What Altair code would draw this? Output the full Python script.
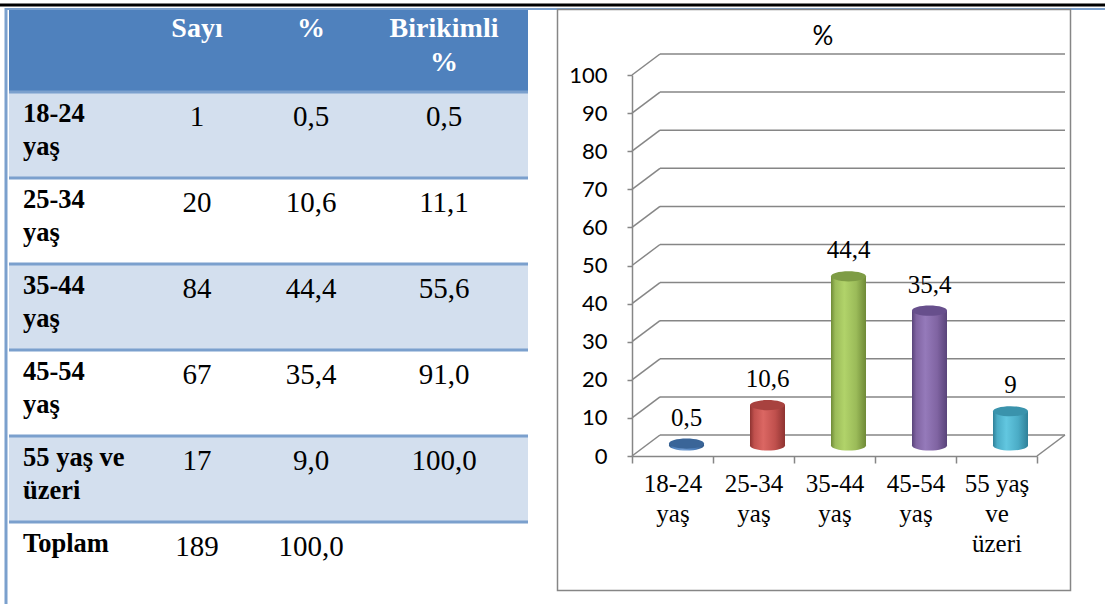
import altair as alt
import pandas as pd

# ---- table content -------------------------------------------------------
header_labels = ["Sayı", "%", "Birikimli\n%"]
row_labels = ["18-24\nyaş", "25-34\nyaş", "35-44\nyaş", "45-54\nyaş", "55 yaş ve\nüzeri", "Toplam"]
counts = ["1", "20", "84", "67", "17", "189"]
percent_text = ["0,5", "10,6", "44,4", "35,4", "9,0", "100,0"]
cumulative_text = ["0,5", "11,1", "55,6", "91,0", "100,0", ""]

# ---- chart content -------------------------------------------------------
categories = ["18-24\nyaş", "25-34\nyaş", "35-44\nyaş", "45-54\nyaş", "55 yaş\nve\nüzeri"]
percents = [0.5, 10.6, 44.4, 35.4, 9.0]
value_labels = ["0,5", "10,6", "44,4", "35,4", "9"]
y_ticks = [0, 10, 20, 30, 40, 50, 60, 70, 80, 90, 100]

base_colors = ["#4F81BD", "#C0504D", "#9BBB59", "#8064A2", "#4BACC6"]
dark_colors = ["#2E5584", "#8E3331", "#6F8A37", "#59447A", "#2F8098"]
light_colors = ["#729DD2", "#DB6763", "#B1D36A", "#957ABA", "#62C7E0"]
top_colors = ["#3A6598", "#A8423F", "#7E9C45", "#674F8C", "#3A93AC"]

SERIF = "Liberation Serif"
SANS = "Lato"
GRID = "#868686"
TABLE_LINE = "#7BA0CD"

one = pd.DataFrame({"k": [0]})

# ---- page frame ----------------------------------------------------------
top_black = alt.Chart(one).mark_rule(color="black", strokeWidth=3).encode(
    x=alt.value(0), x2=alt.value(1105), y=alt.value(5))
top_blue = alt.Chart(one).mark_rule(color=TABLE_LINE, strokeWidth=2).encode(
    x=alt.value(5), x2=alt.value(1105), y=alt.value(9))
left_blue = alt.Chart(one).mark_rule(color=TABLE_LINE, strokeWidth=3).encode(
    x=alt.value(6), y=alt.value(8), y2=alt.value(604))
header_bg = alt.Chart(one).mark_rect(color="#4F81BD").encode(
    x=alt.value(9), x2=alt.value(528), y=alt.value(10), y2=alt.value(91))
chart_box = alt.Chart(one).mark_rect(fill="white", stroke=GRID, strokeWidth=1.5).encode(
    x=alt.value(557.5), x2=alt.value(1070.5), y=alt.value(9.5), y2=alt.value(590.5))
chart_title = alt.Chart(one).mark_text(font=SANS, fontSize=26, color="black").encode(
    x=alt.value(823), y=alt.value(37), text=alt.value("%"))

# ---- table ---------------------------------------------------------------
cells = []
for c, h in enumerate(header_labels, start=1):
    cells.append({"row": -1, "col": c, "txt": h, "kind": "header"})
for r, lab in enumerate(row_labels):
    cells.append({"row": r, "col": 0, "txt": lab, "kind": "label"})
    for c, arr in enumerate([counts, percent_text, cumulative_text], start=1):
        cells.append({"row": r, "col": c, "txt": arr[r], "kind": "value"})
cells_df = pd.DataFrame(cells)

rows_df = pd.DataFrame({"row": list(range(len(row_labels)))})
rows_df["row_end"] = rows_df["row"] + 1

col_scale = alt.Scale(domain=[0, 1, 2, 3], range=[23, 197, 311, 444], zero=False, nice=False)
row_scale = alt.Scale(domain=[0, 6], range=[92, 608], zero=False, nice=False)

tx = alt.X("col:Q", scale=col_scale, axis=None)
ty = alt.Y("row:Q", scale=row_scale, axis=None)

shaded = alt.Chart(rows_df).transform_filter("datum.row % 2 == 0 && datum.row < 5").mark_rect(
    color="#D3DFEE").encode(
    x=alt.value(9), x2=alt.value(528), y=ty, y2="row_end:Q")
separators = alt.Chart(rows_df).transform_filter("datum.row < 6").mark_rule(
    color=TABLE_LINE, strokeWidth=3).encode(
    x=alt.value(9), x2=alt.value(528), y=ty)
header_txt = alt.Chart(cells_df).transform_filter("datum.kind == 'header'").mark_text(
    font=SERIF, fontSize=28, fontWeight="bold", color="white", align="center",
    baseline="alphabetic", dy=31, lineBreak="\n", lineHeight=34).encode(
    x=tx, y=ty, text="txt:N")
label_txt = alt.Chart(cells_df).transform_filter("datum.kind == 'label'").mark_text(
    font=SERIF, fontSize=26.5, fontWeight="bold", color="black", align="left",
    baseline="alphabetic", dy=30, lineBreak="\n", lineHeight=33).encode(
    x=tx, y=ty, text="txt:N")
value_txt = alt.Chart(cells_df).transform_filter("datum.kind == 'value'").mark_text(
    font=SERIF, fontSize=29, color="black", align="center",
    baseline="alphabetic", dy=34).encode(
    x=tx, y=ty, text="txt:N")

table = alt.layer(shaded, separators, header_txt, label_txt, value_txt)

# ---- 3D cylinder chart ---------------------------------------------------
DEPTH_X, DEPTH_Y = 28, -21       # offset of the back wall
MID_X, MID_Y = 14, -10.5         # bars stand halfway into the depth

x_scale = alt.Scale(domain=categories, range=[632, 1037], paddingInner=0, paddingOuter=0)
y_scale = alt.Scale(domain=[0, 100], range=[456, 75], nice=False, zero=True)

x_axis = alt.Axis(orient="bottom", offset=-148, title=None, tickBand="extent", tickSize=7,
                  tickColor=GRID, tickWidth=1.5, domainColor=GRID, domainWidth=1.5,
                  labelAngle=0, labelExpr="split(datum.label, '\\n')", labelFont=SERIF,
                  labelFontSize=25, labelLineHeight=30, labelPadding=8, labelColor="black",
                  labelOverlap=False, zindex=1)
y_axis = alt.Axis(orient="left", offset=-632, title=None, values=y_ticks, grid=False,
                  tickSize=5, tickColor=GRID, tickWidth=1.5, domainColor=GRID, domainWidth=1.5,
                  labelFont=SANS, labelFontSize=22, labelColor="black", labelPadding=20,
                  zindex=1)


def Y(field):
    return alt.Y(field, type="quantitative", scale=y_scale, axis=y_axis)


def X(field):
    return alt.X(field, type="nominal", scale=x_scale, axis=x_axis, sort=categories)


ticks_df = pd.DataFrame({"v": y_ticks})
back_grid = alt.Chart(ticks_df).mark_rule(color=GRID, strokeWidth=1.5, yOffset=DEPTH_Y).encode(
    x=alt.value(632 + DEPTH_X), x2=alt.value(1065), y=Y("v"))
side_grid = alt.Chart(ticks_df).mark_rule(color=GRID, strokeWidth=1.5, y2Offset=DEPTH_Y).encode(
    x=alt.value(632), x2=alt.value(632 + DEPTH_X), y=Y("v"), y2="v:Q")
floor_edge = alt.Chart(ticks_df).transform_filter("datum.v == 0").mark_rule(
    color=GRID, strokeWidth=1.5, yOffset=DEPTH_Y).encode(
    x=alt.value(1065), x2=alt.value(1037), y=Y("v"), y2="v:Q")

bars_df = pd.DataFrame({
    "idx": list(range(len(categories))),
    "cat": categories,
    "val": percents,
    "lab": value_labels,
})
bars_df["zero"] = 0.0

ELLIPSE = "M -1 0 A 1 0.29 0 1 1 1 0 A 1 0.29 0 1 1 -1 0 Z"
BAR_W = 35

cylinders = []
for i in range(len(categories)):
    grad = alt.LinearGradient(
        gradient="linear", x1=0, x2=1, y1=0, y2=0,
        stops=[alt.GradientStop(offset=0, color=dark_colors[i]),
               alt.GradientStop(offset=0.12, color=base_colors[i]),
               alt.GradientStop(offset=0.38, color=light_colors[i]),
               alt.GradientStop(offset=0.72, color=base_colors[i]),
               alt.GradientStop(offset=1, color=dark_colors[i])])
    sub = alt.Chart(bars_df).transform_filter(alt.datum.idx == i)
    bottom = sub.mark_point(shape=ELLIPSE, size=BAR_W * BAR_W, filled=True, fill=grad,
                            opacity=1, strokeWidth=0, xOffset=MID_X, yOffset=MID_Y).encode(
        x=X("cat"), y=Y("zero"))
    body = sub.mark_bar(width=BAR_W, fill=grad, opacity=1, xOffset=MID_X,
                        yOffset=MID_Y, y2Offset=MID_Y).encode(
        x=X("cat"), y=Y("val"), y2="zero:Q")
    top = sub.mark_point(shape=ELLIPSE, size=BAR_W * BAR_W, filled=True, fill=top_colors[i],
                         opacity=1, strokeWidth=0, xOffset=MID_X, yOffset=MID_Y).encode(
        x=X("cat"), y=Y("val"))
    cylinders += [bottom, body, top]

value_text = alt.Chart(bars_df).mark_text(font=SERIF, fontSize=25, color="black",
                                          baseline="middle", xOffset=MID_X,
                                          yOffset=MID_Y, dy=-26).encode(
    x=X("cat"), y=Y("val"), text="lab:N")

bar_chart = alt.layer(back_grid, side_grid, floor_edge, *cylinders, value_text)

chart = alt.layer(
    top_blue, top_black, left_blue, header_bg, chart_box, chart_title, table, bar_chart
).resolve_scale(x="independent", y="independent").properties(
    width=1105, height=604, autosize=alt.AutoSizeParams(type="none"), padding=0
).configure_view(stroke=None)

chart.save("out.html", embed_options={"renderer": "svg", "actions": False})
